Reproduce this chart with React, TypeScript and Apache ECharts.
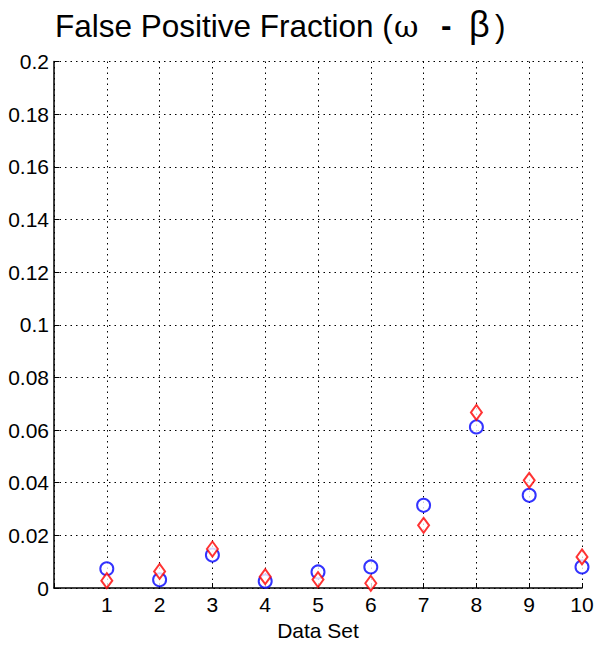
import React, { useEffect, useRef } from "react";
import * as echarts from "echarts";

const dataSets = [1, 2, 3, 4, 5, 6, 7, 8, 9, 10];
const blueCircle = [0.0073, 0.0031, 0.0125, 0.0026, 0.0061, 0.008, 0.0314, 0.0612, 0.0352, 0.008];
const redDiamond = [0.0028, 0.0063, 0.0148, 0.0043, 0.0032, 0.0018, 0.0238, 0.0667, 0.0409, 0.0118];
const yTicks = { min: 0, max: 0.2, interval: 0.02 };
const xTicks = { min: 0, max: 10, interval: 1 };
const titleParts = ["False Positive Fraction (", "ω", "-", "β", ")"];

export default function App() {
  const ref = useRef<HTMLDivElement>(null);
  useEffect(() => {
    if (!ref.current) return;
    const chart = echarts.init(ref.current, undefined, { renderer: "svg" });
    const font = "'Liberation Sans', Arial, sans-serif";
    const gridLine = { show: true, lineStyle: { color: "#000", type: [1.5, 4] as any, width: 1 } };
    const tstyle = (text: string, size: number, family: string, weight = "normal") => ({
      text,
      fill: "#000",
      font: `${weight} ${size}px ${family}`,
      verticalAlign: "middle",
      align: "left",
    });
    chart.setOption({
      animation: false,
      backgroundColor: "#fff",
      graphic: [
        { type: "text", x: 55, y: 26, style: tstyle(titleParts[0], 31.5, font) },
        { type: "text", x: 394, y: 26.6, style: tstyle(titleParts[1], 30, "'DejaVu Serif', serif") },
        { type: "text", x: 441, y: 25, style: tstyle(titleParts[2], 31.5, font, "bold") },
        { type: "text", x: 469, y: 24.5, style: tstyle(titleParts[3], 36, font) },
        { type: "text", x: 495, y: 26, style: tstyle(titleParts[4], 31.5, font) },
      ],
      grid: { left: 54, top: 61.5, right: 18, bottom: 61, containLabel: false },
      xAxis: {
        type: "value",
        min: xTicks.min,
        max: xTicks.max,
        interval: xTicks.interval,
        name: "Data Set",
        nameLocation: "middle",
        nameGap: 32,
        nameTextStyle: { fontFamily: font, fontSize: 21, color: "#000" },
        axisLine: { show: true, lineStyle: { color: "#000", width: 1.5 } },
        axisTick: { show: true, inside: true, length: 5, lineStyle: { color: "#000" } },
        axisLabel: {
          fontFamily: font,
          fontSize: 21,
          color: "#000",
          margin: 6,
          formatter: (v: number) => (v === 0 ? "" : String(v)),
        },
        splitLine: gridLine,
      },
      yAxis: {
        type: "value",
        min: yTicks.min,
        max: yTicks.max,
        interval: yTicks.interval,
        axisLine: { show: true, lineStyle: { color: "#000", width: 1.5 } },
        axisTick: { show: true, inside: true, length: 5, lineStyle: { color: "#000" } },
        axisLabel: {
          fontFamily: font,
          fontSize: 21,
          color: "#000",
          margin: 5,
          formatter: (v: number) => String(Math.round(v * 100) / 100),
        },
        splitLine: gridLine,
      },
      series: [
        {
          type: "scatter",
          data: dataSets.map((x, i) => [x, blueCircle[i]]),
          symbol: "emptyCircle",
          symbolSize: 13,
          itemStyle: { color: "#0000ff", borderColor: "#0000ff", borderWidth: 1.6 },
          z: 3,
        },
        {
          type: "scatter",
          data: dataSets.map((x, i) => [x, redDiamond[i]]),
          symbol: "emptyDiamond",
          symbolSize: [11, 15],
          itemStyle: { color: "#ff0000", borderColor: "#ff0000", borderWidth: 1.3 },
          z: 4,
        },
      ],
    });
    return () => chart.dispose();
  }, []);
  return (
    <div
      ref={ref}
      style={{ position: "fixed", left: 0, top: 0, width: 600, height: 649, background: "#fff" }}
    />
  );
}
